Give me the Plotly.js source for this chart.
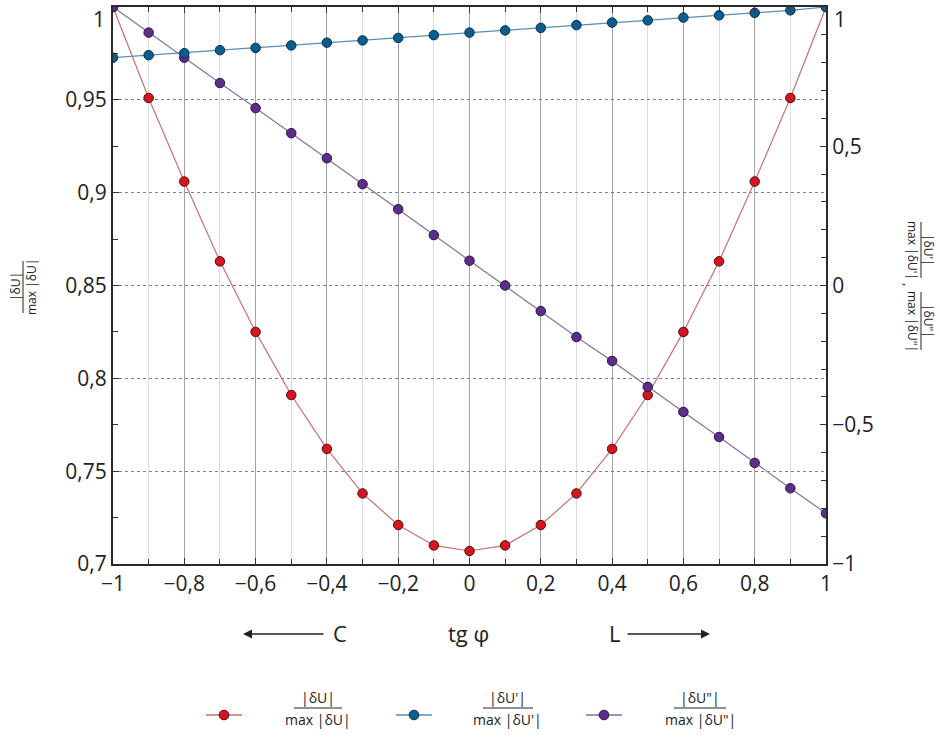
<!DOCTYPE html>
<html>
<head>
<meta charset="utf-8">
<script src="https://cdn.plot.ly/plotly-3.0.1.min.js"></script>
<style>
  html, body { margin: 0; padding: 0; background: #fff; }
  #chart { width: 940px; height: 753px; }
</style>
</head>
<body>
<div id="chart"></div>
<script>
// tg φ values along the horizontal axis
const tgPhi = [-1, -0.9, -0.8, -0.7, -0.6, -0.5, -0.4, -0.3, -0.2, -0.1, 0, 0.1, 0.2, 0.3, 0.4, 0.5, 0.6, 0.7, 0.8, 0.9, 1];

// |δU| / max |δU|  (left axis)
const relDU = [1, 0.951, 0.906, 0.863, 0.825, 0.791, 0.762, 0.738, 0.721, 0.710, 0.707, 0.710, 0.721, 0.738, 0.762, 0.791, 0.825, 0.863, 0.906, 0.951, 1];

// |δU'| / max |δU'|  (right axis)
const relDU1 = [0.818, 0.827, 0.834, 0.845, 0.853, 0.862, 0.872, 0.880, 0.889, 0.899, 0.908, 0.916, 0.925, 0.935, 0.944, 0.952, 0.962, 0.970, 0.979, 0.988, 1];

// |δU"| / max |δU"|  (right axis)
const relDU2 = [1, 0.908, 0.818, 0.727, 0.637, 0.547, 0.457, 0.364, 0.274, 0.181, 0.089, 0, -0.092, -0.185, -0.271, -0.364, -0.454, -0.544, -0.637, -0.728, -0.818];

// tick labels
const xTickVals = [-1, -0.8, -0.6, -0.4, -0.2, 0, 0.2, 0.4, 0.6, 0.8, 1];
const xTickText = ['\u22121', '\u22120,8', '\u22120,6', '\u22120,4', '\u22120,2', '0', '0,2', '0,4', '0,6', '0,8', '1'];
const yTickVals = [0.7, 0.75, 0.8, 0.85, 0.9, 0.95, 1];
const yTickText = ['0,7', '0,75', '0,8', '0,85', '0,9', '0,95', '1'];
const y2TickVals = [-1, -0.5, 0, 0.5, 1];
const y2TickText = ['\u22121', '\u22120,5', '0', '0,5', '1'];

// series labels (numerator / denominator)
const seriesNum = ['|\u03b4U|', "|\u03b4U'|", '|\u03b4U"|'];
const seriesDen = ['max |\u03b4U|', "max |\u03b4U'|", 'max |\u03b4U"|'];

const red = { line: '#c97070', fill: '#d3161f', edge: '#5a0a0a' };
const blue = { line: '#5a8db3', fill: '#0b5c8f', edge: '#06304c' };
const purple = { line: '#84739c', fill: '#5d2d8b', edge: '#2b1445' };

// plot area in page pixels
const W = 940, H = 753, L = 113, R = 826, T = 7, B = 564;
const px = x => (x - L) / (R - L);
const py = y => (B - y) / (B - T);

const FONT = 'Open Sans, DejaVu Sans, sans-serif';
const INK = '#222';
const tickFont = { family: FONT, size: 21, color: INK };

function series(y, c, axis) {
  return {
    x: tgPhi, y: y, yaxis: axis, type: 'scatter', mode: 'lines+markers',
    line: { color: c.line, width: 1.2 },
    marker: { size: 9.5, color: c.fill, line: { color: c.edge, width: 1 } },
    cliponaxis: true, showlegend: false, hoverinfo: 'skip'
  };
}

const data = [
  series(relDU2, purple, 'y2'),
  series(relDU1, blue, 'y2'),
  series(relDU, red, 'y')
];

const annotations = [];
const shapes = [];

function text(x, y, s, font, extra) {
  annotations.push(Object.assign({ x: px(x), y: py(y), text: s, showarrow: false, xref: 'paper', yref: 'paper',
    xanchor: 'center', yanchor: 'middle', font: font }, extra || {}));
}

// stacked fraction drawn with two texts and a bar; angle 0, -90 or 90
function fraction(cx, cy, num, den, barLen, gap, size, angle) {
  const f = { family: FONT, size: size, color: INK };
  let nx = cx, ny = cy, dx = cx, dy = cy;
  if (angle === 0) { ny = cy - gap; dy = cy + gap; }
  else if (angle === -90) { nx = cx - gap; dx = cx + gap; }
  else { nx = cx + gap; dx = cx - gap; }
  text(nx, ny, num, f, { textangle: angle });
  text(dx, dy, den, f, { textangle: angle });
  const bar = { type: 'line', xref: 'paper', yref: 'paper', line: { color: INK, width: 1 } };
  if (angle === 0) Object.assign(bar, { x0: px(cx - barLen / 2), x1: px(cx + barLen / 2), y0: py(cy), y1: py(cy) });
  else Object.assign(bar, { x0: px(cx), x1: px(cx), y0: py(cy - barLen / 2), y1: py(cy + barLen / 2) });
  shapes.push(bar);
}

// axis titles
fraction(23, 287, seriesNum[0], seriesDen[0], 52, 8, 12, -90);
fraction(921, 250, seriesNum[1], seriesDen[1], 56, 8, 12, 90);
text(909, 284, ',', { family: FONT, size: 13, color: INK }, { textangle: 90 });
fraction(921, 321, seriesNum[2], seriesDen[2], 58, 8, 12, 90);

// top-end labels "1" of both value axes, kept inside the page
annotations.push({ x: px(L - 6), xanchor: 'right', xref: 'paper', y: yTickVals[yTickVals.length - 1], yref: 'y',
  yanchor: 'top', yshift: 4, text: yTickText[yTickText.length - 1], showarrow: false, font: tickFont });
annotations.push({ x: px(R + 6), xanchor: 'left', xref: 'paper', y: y2TickVals[y2TickVals.length - 1], yref: 'y2',
  yanchor: 'top', yshift: 4, text: y2TickText[y2TickText.length - 1], showarrow: false, font: tickFont });

// direction notes under the x axis
const noteFont = { family: FONT, size: 22, color: INK };
const noteY = 633;
text(468, noteY, 'tg \u03c6', noteFont);
text(340, noteY, 'C', noteFont);
text(614, noteY, 'L', noteFont);
annotations.push({ x: px(243), y: py(noteY + 1), ax: 82, ay: 0, text: '', showarrow: true, arrowhead: 2, arrowsize: 1.2,
  arrowwidth: 1.5, arrowcolor: INK, xref: 'paper', yref: 'paper' });
annotations.push({ x: px(710), y: py(noteY + 1), ax: -84, ay: 0, text: '', showarrow: true, arrowhead: 2, arrowsize: 1.2,
  arrowwidth: 1.5, arrowcolor: INK, xref: 'paper', yref: 'paper' });

// legend row
const legendY = 715;
const legendItems = [
  { c: red, mx: 224, fx: 318, bar: 48 },
  { c: blue, mx: 414, fx: 508, bar: 50 },
  { c: purple, mx: 604, fx: 700, bar: 52 }
];
legendItems.forEach((it, i) => {
  shapes.push({ type: 'line', xref: 'paper', yref: 'paper', x0: px(it.mx - 18), x1: px(it.mx + 18),
    y0: py(legendY), y1: py(legendY), line: { color: it.c.line, width: 1.3 } });
  shapes.push({ type: 'circle', xref: 'paper', yref: 'paper', xsizemode: 'pixel', ysizemode: 'pixel',
    xanchor: px(it.mx), yanchor: py(legendY), x0: -4.8, x1: 4.8, y0: -4.8, y1: 4.8,
    fillcolor: it.c.fill, line: { color: it.c.edge, width: 1 } });
  fraction(it.fx, legendY - 7, seriesNum[i], seriesDen[i], it.bar, 11, 14, 0);
});

const layout = {
  width: W, height: H,
  margin: { l: L, r: W - R, t: T, b: H - B },
  paper_bgcolor: '#fff', plot_bgcolor: '#fff',
  showlegend: false,
  xaxis: {
    range: [-1, 1], tickmode: 'array', tickvals: xTickVals, ticktext: xTickText,
    tickfont: tickFont, ticks: 'inside', ticklen: 6, tickcolor: '#333',
    showgrid: true, gridcolor: '#a3a3a3', gridwidth: 1, zeroline: false,
    showline: true, linecolor: '#2a2a2a', linewidth: 2, mirror: 'ticks',
    minor: { tickmode: 'linear', tick0: -1, dtick: 0.1, ticks: 'inside', ticklen: 5, tickcolor: '#333',
             showgrid: true, gridcolor: '#dddddd', gridwidth: 1 }
  },
  yaxis: {
    range: [0.7, 1], tickmode: 'array', tickvals: yTickVals,
    ticktext: yTickText.map((t, i) => (yTickVals[i] === 1 ? '' : t)),
    tickfont: tickFont, ticks: 'inside', ticklen: 6, tickcolor: '#333',
    showgrid: true, gridcolor: '#808080', gridwidth: 1, griddash: 'dot', zeroline: false,
    showline: true, linecolor: '#2a2a2a', linewidth: 2,
    minor: { tickmode: 'linear', tick0: 0.7, dtick: 0.025, ticks: 'inside', ticklen: 5, tickcolor: '#333', showgrid: false }
  },
  yaxis2: {
    range: [-1, 1], overlaying: 'y', side: 'right', tickmode: 'array', tickvals: y2TickVals,
    ticktext: y2TickText.map((t, i) => (y2TickVals[i] === 1 ? '' : t)),
    tickfont: tickFont, ticks: 'inside', ticklen: 6, tickcolor: '#333',
    showgrid: false, zeroline: false, showline: true, linecolor: '#2a2a2a', linewidth: 2,
    minor: { tickmode: 'linear', tick0: -1, dtick: 0.1, ticks: 'inside', ticklen: 5, tickcolor: '#333', showgrid: false }
  },
  annotations: annotations,
  shapes: shapes
};

Plotly.newPlot('chart', data, layout, { displayModeBar: false, staticPlot: true });
</script>
</body>
</html>
